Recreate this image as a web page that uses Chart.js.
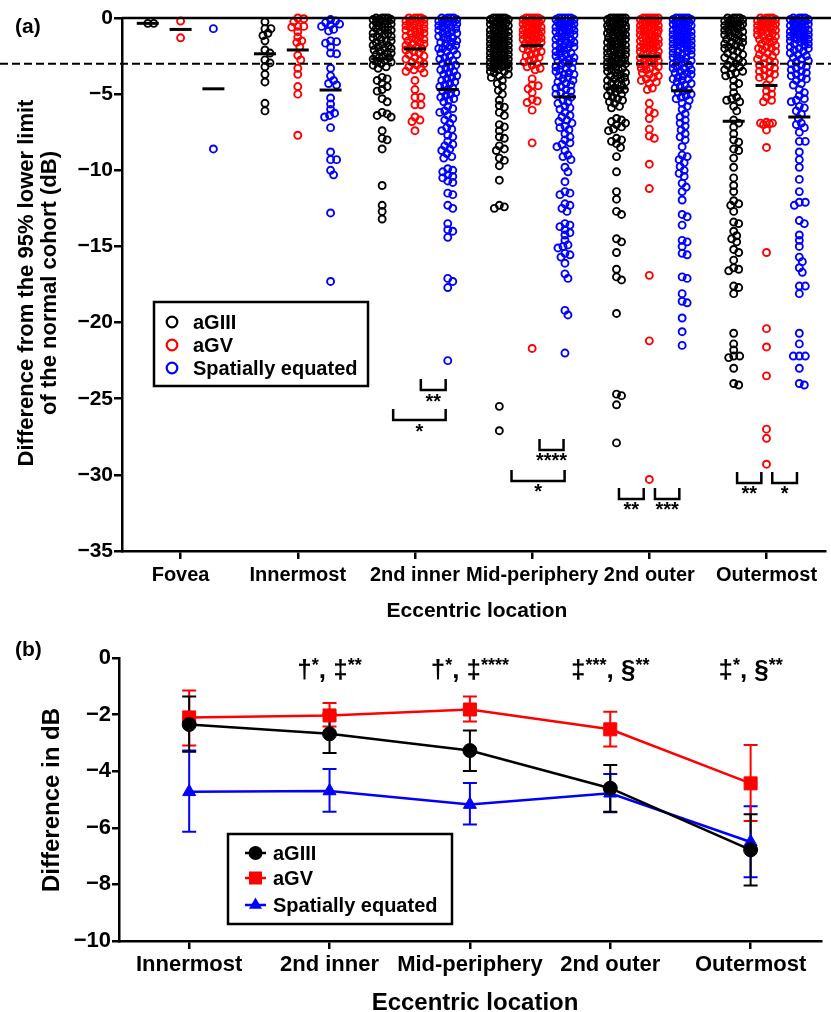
<!DOCTYPE html>
<html>
<head>
<meta charset="utf-8">
<script src="https://cdn.jsdelivr.net/npm/chart.js@4/dist/chart.umd.min.js"></script>
<style>
  body { margin: 0; background: #fff; }
  canvas { position: absolute; left: 0; }
  #chartA { top: 0; }
  #chartB { top: 630px; }
</style>
</head>
<body>
<canvas id="chartA" width="831" height="630"></canvas>
<canvas id="chartB" width="831" height="382"></canvas>
<script>
const FONT = '"Liberation Sans", Arial, Helvetica, sans-serif';

const locationsA = ['Fovea', 'Innermost', '2nd inner', 'Mid-periphery', '2nd outer', 'Outermost'];
const locationsB = locationsA.slice(1);
const seriesNames = ['aGIII', 'aGV', 'Spatially equated'];
const seriesColors = ['#000000', '#ff0000', '#0000ff'];

// individual differences from the normal 95% lower limit (dB)
const aGIII_fovea = [-0.35, -0.35];
const aGV_fovea = [-0.2, -1.3];
const spatial_fovea = [-0.7, -8.6];

const aGIII_innermost = [-0.25, -0.7, -0.7, -1.0, -1.15, -1.5, -2.1, -2.3, -2.75, -2.95, -3.2, -3.7, -4.2, -5.6, -6.1];
const aGV_innermost = [0, -0.05, -0.25, -0.55, -0.55, -0.6, -0.9, -1.25, -1.5, -1.6, -1.9, -2.45, -2.75, -3.3, -3.7, -4.5, -5.0, -7.7];
const spatial_innermost = [-0.1, -0.2, -0.3, -0.4, -0.45, -0.55, -0.75, -0.85, -1.5, -1.55, -1.65, -1.9, -2.3, -2.35, -3.3, -3.8,
  -4.1, -4.3, -4.4, -5.25, -5.65, -6.0, -6.25, -6.4, -6.5, -7.2, -8.8, -9.3, -9.3, -10.0, -10.3, -12.8, -17.3];

const aGIII_2ndInner = [0, 0, 0, 0, -0.1, -0.1, -0.1, -0.2, -0.2, -0.3, -0.3, -0.4, -0.4, -0.5, -0.5, -0.6, -0.6, -0.7, -0.8, -0.8,
  -0.9, -1.0, -1.0, -1.1, -1.2, -1.2, -1.3, -1.4, -1.5, -1.5, -1.6, -1.7, -1.8, -1.8, -1.9, -2.0, -2.0, -2.1, -2.2, -2.3, -2.3,
  -2.4, -2.5, -2.6, -2.6, -2.7, -2.8, -2.9, -2.9, -3.0, -3.1, -3.2,
  -3.3, -3.9, -4.0, -4.1, -4.3, -4.5, -4.7, -4.8, -5.3, -5.5, -6.2, -6.3, -6.4, -6.5, -7.4, -7.9, -8.0, -8.6, -11.0, -12.3, -12.7, -13.2];
const aGV_2ndInner = [0, 0, 0, 0, -0.1, -0.1, -0.2, -0.2, -0.3, -0.3, -0.4, -0.5, -0.5, -0.6, -0.6, -0.7, -0.8, -0.8, -0.9, -1.0,
  -1.0, -1.1, -1.2, -1.2, -1.3, -1.4, -1.4, -1.5, -1.6, -1.7, -1.7, -1.8, -1.9, -2.0, -2.0, -2.1, -2.2, -2.3, -2.4, -2.5, -2.6,
  -2.7, -2.8, -2.9, -3.0, -3.1, -3.2, -3.3, -3.4, -3.5, -3.6,
  -4.1, -4.7, -5.2, -5.2, -5.7, -5.7, -6.5, -6.7, -6.8, -7.4];
const spatial_2ndInner = [0, 0, 0, 0, -0.1, -0.1, -0.2, -0.2, -0.3, -0.3, -0.4, -0.4, -0.5, -0.6, -0.6, -0.7, -0.8, -0.8, -0.9,
  -1.0, -1.0, -1.1, -1.2, -1.3, -1.3, -1.4, -1.5, -1.6, -1.6, -1.7, -1.8, -1.9, -2.0, -2.0, -2.1, -2.2, -2.3, -2.4, -2.5, -2.6,
  -2.7, -2.8, -2.9, -3.0, -3.1, -3.2, -3.3, -3.4, -3.5, -3.6, -3.7, -3.8, -3.9, -4.0, -4.1, -4.2, -4.3, -4.4, -4.5, -4.6, -4.7,
  -4.8, -4.9, -5.0, -5.1, -5.2, -5.3, -5.4, -5.5,
  -5.8, -5.95, -6.1, -6.2, -6.4, -6.6, -6.7, -6.9, -7.2, -7.3, -7.4, -7.7, -7.8, -8.1, -8.3, -8.4, -8.6, -8.7, -8.9, -9.1, -9.2,
  -9.9, -10.0, -10.1, -10.3, -10.4, -10.5, -10.7, -10.8, -11.5, -11.6, -12.3, -12.5, -13.5, -13.9, -14.0, -14.4, -17.1, -17.3,
  -17.7, -22.5];

const aGIII_mid = [0, 0, 0, 0, 0, -0.1, -0.1, -0.1, -0.2, -0.2, -0.2, -0.3, -0.3, -0.4, -0.4, -0.5, -0.5, -0.6, -0.6, -0.7, -0.7,
  -0.8, -0.8, -0.9, -0.9, -1.0, -1.0, -1.1, -1.1, -1.2, -1.2, -1.3, -1.3, -1.4, -1.4, -1.5, -1.5, -1.6, -1.6, -1.7, -1.7, -1.8,
  -1.8, -1.9, -1.9, -2.0, -2.0, -2.1, -2.1, -2.2, -2.2, -2.3, -2.3, -2.4, -2.4, -2.5, -2.5, -2.6, -2.6, -2.7, -2.7, -2.8, -2.8,
  -2.9, -2.9, -3.0, -3.0, -3.1, -3.1, -3.2, -3.2, -3.3, -3.3, -3.4, -3.5, -3.5, -3.6, -3.7, -3.8, -3.9,
  -4.1, -4.3, -4.5, -4.75, -5.0, -5.4, -5.75, -5.85, -6.2, -6.4, -7.0, -7.15, -7.4, -7.8, -7.9, -8.4, -8.6, -8.7, -9.2, -9.35,
  -9.7, -10.65, -12.3, -12.4, -12.5, -25.5, -27.1];
const aGV_mid = [0, 0, 0, 0, 0, -0.1, -0.1, -0.1, -0.2, -0.2, -0.3, -0.3, -0.4, -0.4, -0.5, -0.5, -0.6, -0.6, -0.7, -0.7, -0.8,
  -0.8, -0.9, -0.9, -1.0, -1.0, -1.1, -1.1, -1.2, -1.2, -1.3, -1.3, -1.4, -1.4, -1.5, -1.5, -1.6, -1.7, -1.7, -1.8, -1.9, -2.0,
  -2.0, -2.1, -2.2, -2.3, -2.4, -2.5, -2.6, -2.7, -2.8, -2.9, -3.0, -3.1, -3.2, -3.3, -3.4,
  -4.0, -4.4, -4.45, -4.65, -4.9, -5.35, -5.45, -5.55, -6.05, -8.2, -21.7];
const spatial_mid = [0, 0, 0, 0, 0, -0.1, -0.1, -0.2, -0.2, -0.3, -0.3, -0.4, -0.4, -0.5, -0.5, -0.6, -0.6, -0.7, -0.7, -0.8,
  -0.8, -0.9, -0.9, -1.0, -1.0, -1.1, -1.2, -1.2, -1.3, -1.4, -1.4, -1.5, -1.6, -1.6, -1.7, -1.8, -1.8, -1.9, -2.0, -2.0, -2.1,
  -2.2, -2.3, -2.3, -2.4, -2.5, -2.6, -2.6, -2.7, -2.8, -2.9, -2.9, -3.0, -3.1, -3.2, -3.3, -3.3, -3.4, -3.5, -3.6, -3.7, -3.7,
  -3.8, -3.9, -4.0, -4.1, -4.2, -4.3, -4.4, -4.5, -4.6, -4.7, -4.8, -4.9, -5.0, -5.1, -5.2,
  -5.4, -5.5, -5.6, -5.8, -5.9, -6.0, -6.2, -6.4, -6.5, -6.7, -6.8, -6.9, -7.1, -7.2, -7.35, -7.6, -7.8, -8.0, -8.2, -8.3, -8.45,
  -8.7, -9.0, -9.1, -9.3, -9.8, -10.1, -10.75, -11.4, -11.5, -11.6, -12.2, -12.3, -12.5, -12.7, -13.5, -13.6, -13.7, -13.9,
  -14.1, -14.25, -14.6, -14.9, -15.0, -15.1, -15.45, -15.55, -15.7, -16.1, -16.8, -17.1, -19.2, -19.5, -22.0];

const aGIII_2ndOuter = [0, 0, 0, 0, 0, 0, -0.1, -0.1, -0.1, -0.2, -0.2, -0.2, -0.3, -0.3, -0.4, -0.4, -0.4, -0.5, -0.5, -0.6,
  -0.6, -0.7, -0.7, -0.7, -0.8, -0.8, -0.9, -0.9, -1.0, -1.0, -1.0, -1.1, -1.1, -1.2, -1.2, -1.3, -1.3, -1.4, -1.4, -1.5, -1.5,
  -1.6, -1.6, -1.7, -1.7, -1.8, -1.8, -1.9, -1.9, -2.0, -2.0, -2.1, -2.1, -2.2, -2.2, -2.3, -2.3, -2.4, -2.4, -2.5, -2.5, -2.6,
  -2.6, -2.7, -2.7, -2.8, -2.8, -2.9, -2.9, -3.0, -3.0, -3.1, -3.2, -3.2, -3.3, -3.4, -3.4, -3.5, -3.6, -3.6, -3.7, -3.8, -3.8,
  -3.9, -4.0, -4.0, -4.1, -4.2, -4.3, -4.3, -4.4, -4.5, -4.6, -4.7, -4.7, -4.8, -4.9, -5.0, -5.1, -5.2, -5.3, -5.4, -5.5, -5.6,
  -5.8, -5.9,
  -6.6, -6.7, -6.8, -6.9, -7.0, -7.15, -7.3, -7.4, -7.9, -8.0, -8.1, -8.25, -8.5, -9.1, -10.1, -11.4, -11.9, -12.7, -12.9, -14.5,
  -14.7, -15.4, -16.5, -17.0, -17.2, -19.4, -24.7, -24.8, -25.4, -27.9];
const aGV_2ndOuter = [0, 0, 0, 0, 0, 0, -0.1, -0.1, -0.1, -0.2, -0.2, -0.2, -0.3, -0.3, -0.3, -0.4, -0.4, -0.5, -0.5, -0.5, -0.6,
  -0.6, -0.7, -0.7, -0.8, -0.8, -0.9, -0.9, -1.0, -1.0, -1.1, -1.1, -1.2, -1.2, -1.3, -1.3, -1.4, -1.4, -1.5, -1.5, -1.6, -1.6,
  -1.7, -1.7, -1.8, -1.8, -1.9, -1.9, -2.0, -2.0, -2.1, -2.2, -2.2, -2.3, -2.4, -2.4, -2.5, -2.6, -2.6, -2.7, -2.8, -2.8, -2.9,
  -3.0, -3.0, -3.1, -3.2, -3.3, -3.3, -3.4, -3.5, -3.6, -3.7, -3.8, -3.9, -4.0, -4.1, -4.2, -4.3,
  -4.6, -4.7, -5.6, -6.1, -6.25, -6.6, -7.3, -7.75, -7.9, -9.6, -11.2, -16.9, -21.2, -30.3];
const spatial_2ndOuter = [0, 0, 0, 0, 0, -0.1, -0.1, -0.1, -0.2, -0.2, -0.3, -0.3, -0.3, -0.4, -0.4, -0.5, -0.5, -0.6, -0.6,
  -0.7, -0.7, -0.8, -0.8, -0.9, -0.9, -1.0, -1.0, -1.1, -1.1, -1.2, -1.2, -1.3, -1.3, -1.4, -1.4, -1.5, -1.5, -1.6, -1.6, -1.7,
  -1.7, -1.8, -1.8, -1.9, -1.9, -2.0, -2.0, -2.1, -2.2, -2.2, -2.3, -2.4, -2.4, -2.5, -2.6, -2.6, -2.7, -2.8, -2.8, -2.9, -3.0,
  -3.0, -3.1, -3.2, -3.3, -3.3, -3.4, -3.5, -3.6, -3.6, -3.7, -3.8, -3.9, -4.0, -4.0, -4.1, -4.2, -4.3, -4.4, -4.5, -4.6, -4.7,
  -4.8, -4.9, -5.0, -5.1, -5.2, -5.3, -5.4,
  -5.6, -5.8, -6.0, -6.3, -6.5, -6.7, -6.9, -7.1, -7.35, -7.6, -7.8, -8.0, -8.45, -9.0, -9.1, -9.3, -9.5, -9.75, -10.0, -10.2,
  -10.4, -10.85, -11.1, -11.4, -11.95, -12.9, -13.05, -13.6, -14.6, -14.7, -15.0, -15.45, -15.55, -17.0, -17.1, -18.1, -18.6,
  -18.7, -19.7, -20.6, -21.5];

const aGIII_outermost = [0, 0, 0, 0, -0.1, -0.1, -0.2, -0.2, -0.3, -0.3, -0.4, -0.4, -0.5, -0.5, -0.6, -0.6, -0.7, -0.7, -0.8,
  -0.9, -0.9, -1.0, -1.1, -1.1, -1.2, -1.3, -1.3, -1.4, -1.5, -1.6, -1.6, -1.7, -1.8, -1.9, -1.9, -2.0, -2.1, -2.2, -2.3, -2.4,
  -2.5, -2.6, -2.7, -2.8, -2.9, -3.0, -3.1, -3.2, -3.3, -3.4, -3.5, -3.6, -3.7, -3.8,
  -4.1, -4.3, -4.5, -4.9, -5.2, -5.3, -5.4, -5.5, -5.8, -6.1, -6.7, -6.9, -7.15, -7.6, -8.0, -8.15, -8.6, -8.7, -9.2, -9.8,
  -10.5, -11.0, -11.4, -12.0, -12.2, -12.3, -12.7, -13.4, -13.5, -14.0, -14.3, -14.5, -14.7, -15.2, -15.4, -15.9, -16.4, -16.5,
  -16.6, -17.6, -17.7, -18.1, -20.7, -21.4, -21.8, -22.2, -22.2, -22.3, -23.0, -24.0, -24.1];
const aGV_outermost = [0, 0, 0, 0, -0.1, -0.1, -0.2, -0.2, -0.3, -0.3, -0.4, -0.4, -0.5, -0.5, -0.6, -0.6, -0.7, -0.7, -0.8, -0.8,
  -0.9, -1.0, -1.0, -1.1, -1.2, -1.2, -1.3, -1.4, -1.5, -1.5, -1.6, -1.7, -1.8, -1.9, -2.0, -2.0, -2.1, -2.2, -2.3, -2.4, -2.5,
  -2.6, -2.7, -2.8, -2.9, -3.0, -3.1, -3.2, -3.3, -3.4, -3.5, -3.6, -3.7, -3.8, -3.9, -4.0,
  -4.4, -4.6, -4.8, -5.0, -5.2, -5.4, -5.5, -6.85, -6.9, -6.9, -6.95, -7.0, -7.35, -8.5, -15.4, -20.4, -21.6, -23.5, -27.0,
  -27.6, -29.3];
const spatial_outermost = [0, 0, 0, 0, -0.1, -0.1, -0.1, -0.2, -0.2, -0.3, -0.3, -0.4, -0.4, -0.5, -0.5, -0.6, -0.6, -0.7, -0.7,
  -0.8, -0.8, -0.9, -0.9, -1.0, -1.0, -1.1, -1.1, -1.2, -1.2, -1.3, -1.3, -1.4, -1.4, -1.5, -1.5, -1.6, -1.7, -1.7, -1.8, -1.9,
  -2.0, -2.0, -2.1, -2.2, -2.3, -2.4, -2.5, -2.6, -2.7, -2.8, -2.9, -3.0, -3.1, -3.2, -3.3, -3.4, -3.5, -3.6, -3.7, -3.8, -3.9,
  -4.0, -4.1,
  -4.3, -4.4, -4.7, -4.9, -5.1, -5.3, -5.4, -5.5, -5.8, -5.9, -6.1, -6.3, -6.6, -6.9, -7.0, -7.2, -7.5, -8.1, -8.1, -8.8, -9.3,
  -9.8, -10.6, -11.4, -12.1, -12.1, -12.3, -13.3, -13.5, -14.25, -14.6, -15.0, -15.7, -16.0, -16.4, -16.7, -17.6, -17.6, -18.1,
  -20.7, -21.4, -22.2, -22.2, -22.2, -23.0, -24.0, -24.1];

// group means (dB), Fovea first
const meanAGIII = [-0.35, -2.35, -2.68, -3.27, -4.6, -6.78];
const meanAGV = [-0.75, -2.1, -2.03, -1.82, -2.52, -4.43];
const meanSpatial = [-4.65, -4.73, -4.7, -5.18, -4.78, -6.5];

// error bar limits for panel (b), Innermost to Outermost
const upperAGIII = [-1.36, -1.97, -2.56, -3.78, -5.52];
const lowerAGIII = [-3.31, -3.36, -3.99, -5.43, -8.04];
const upperAGV = [-1.15, -1.59, -1.36, -1.9, -3.07];
const lowerAGV = [-3.09, -2.42, -2.24, -3.13, -5.76];
const upperSpatial = [-3.27, -3.92, -4.42, -4.1, -5.24];
const lowerSpatial = [-6.14, -5.43, -5.88, -5.45, -7.75];

// pairwise comparisons in panel (a): [from x, to x, y, stars]
const pairMarks = [
  [1.814, 2.262, -26.4, '*'], [2.05, 2.262, -24.43, '**'],
  [2.824, 3.277, -30.4, '*'], [3.063, 3.268, -28.36, '****'],
  [3.741, 3.952, -31.58, '**'], [4.048, 4.256, -31.58, '***'],
  [4.749, 4.956, -30.53, '**'], [5.049, 5.26, -30.53, '*']
];
const contrastLabels = ['', '\u2020*, \u2021**', '\u2020*, \u2021****', '\u2021***, \u00a7**', '\u2021*, \u00a7**'];

const pointsA = [
  [aGIII_fovea, aGIII_innermost, aGIII_2ndInner, aGIII_mid, aGIII_2ndOuter, aGIII_outermost],
  [aGV_fovea, aGV_innermost, aGV_2ndInner, aGV_mid, aGV_2ndOuter, aGV_outermost],
  [spatial_fovea, spatial_innermost, spatial_2ndInner, spatial_mid, spatial_2ndOuter, spatial_outermost]
];
const meansA = [meanAGIII, meanAGV, meanSpatial];
const groupShift = [-0.28, 0, 0.28];

Chart.defaults.font.family = FONT;
Chart.defaults.font.weight = 'bold';
Chart.defaults.color = '#000';

const minus = v => (v === 0 ? '0' : '\u2212' + Math.abs(v));

// beeswarm offsets (px) for one column of points, capped to a narrow strip
function swarmOffsets(pys, gap, maxOff) {
  const order = pys.map((_, i) => i).sort((a, b) => pys[a] - pys[b]);
  const placed = [];
  const offs = new Array(pys.length).fill(0);
  for (const i of order) {
    const y = pys[i];
    let bestOff = 0, bestGap = -1;
    for (let step = 0; step <= 2 * maxOff; step++) {
      const o = (step % 2 ? 1 : -1) * Math.ceil(step / 2);
      let g = Infinity;
      for (const p of placed) {
        const dy = p.y - y;
        if (Math.abs(dy) >= gap) continue;
        g = Math.min(g, Math.hypot(p.x - o, dy));
      }
      if (g >= gap) { bestOff = o; break; }
      if (g > bestGap) { bestGap = g; bestOff = o; }
    }
    offs[i] = bestOff;
    placed.push({ x: bestOff, y });
  }
  return offs;
}

function spreadPoints(chart) {
  const xs = chart.scales.x, ys = chart.scales.y;
  chart.data.datasets.forEach((ds, s) => {
    locationsA.forEach((_, i) => {
      const pts = ds.data.filter(p => p.loc === i);
      const cx = xs.getPixelForValue(i + groupShift[s]);
      const offs = swarmOffsets(pts.map(p => ys.getPixelForValue(p.y)), 5.2, 9);
      pts.forEach((p, k) => { p.x = xs.getValueForPixel(cx + offs[k]); });
    });
  });
  chart.update('none');
}

function rotatedText(ctx, text, x, y, font) {
  ctx.save();
  ctx.translate(x, y);
  ctx.rotate(-Math.PI / 2);
  ctx.font = font;
  ctx.textAlign = 'center';
  ctx.textBaseline = 'alphabetic';
  ctx.fillText(text, 0, 0);
  ctx.restore();
}

// mean bars, reference lines and comparison brackets of panel (a)
const panelAExtras = {
  id: 'panelAExtras',
  afterDatasetsDraw(chart) {
    const { ctx, scales: { x, y }, chartArea } = chart;
    ctx.save();
    ctx.strokeStyle = '#000';
    ctx.lineWidth = 2.5;
    ctx.beginPath();
    ctx.moveTo(chartArea.left, y.getPixelForValue(0));
    ctx.lineTo(chart.width, y.getPixelForValue(0));
    ctx.stroke();

    ctx.lineWidth = 2;
    ctx.setLineDash([8, 4]);
    ctx.beginPath();
    ctx.moveTo(0, y.getPixelForValue(-3));
    ctx.lineTo(chart.width, y.getPixelForValue(-3));
    ctx.stroke();
    ctx.setLineDash([]);

    ctx.lineWidth = 3;
    meansA.forEach((means, s) => {
      means.forEach((m, i) => {
        const px = x.getPixelForValue(i + groupShift[s]);
        const py = y.getPixelForValue(m);
        ctx.beginPath();
        ctx.moveTo(px - 11, py);
        ctx.lineTo(px + 11, py);
        ctx.stroke();
      });
    });

    ctx.lineWidth = 2.5;
    ctx.font = 'bold 20px ' + FONT;
    ctx.fillStyle = '#000';
    ctx.textAlign = 'center';
    ctx.textBaseline = 'top';
    pairMarks.forEach(([x1, x2, v, stars]) => {
      const a = x.getPixelForValue(x1), b = x.getPixelForValue(x2), py = y.getPixelForValue(v);
      ctx.beginPath();
      ctx.moveTo(a, py - 11);
      ctx.lineTo(a, py);
      ctx.lineTo(b, py);
      ctx.lineTo(b, py - 11);
      ctx.stroke();
      ctx.fillText(stars, (a + b) / 2, py + 2);
    });
    ctx.restore();
  },
  afterDraw(chart) {
    const ctx = chart.ctx;
    ctx.save();
    ctx.fillStyle = '#000';
    ctx.font = 'bold 21px ' + FONT;
    ctx.textAlign = 'left';
    ctx.textBaseline = 'middle';
    ctx.fillText('(a)', 15, 27);

    rotatedText(ctx, 'Difference from the 95% lower limit', 33, 283, 'bold 22px ' + FONT);
    rotatedText(ctx, 'of the normal cohort (dB)', 56, 283, 'bold 22px ' + FONT);

    ctx.font = 'bold 21px ' + FONT;
    ctx.textAlign = 'center';
    ctx.textBaseline = 'alphabetic';
    ctx.fillText('Eccentric location', 477, 617);

    // legend
    ctx.lineWidth = 2.5;
    ctx.strokeStyle = '#000';
    ctx.strokeRect(154, 302, 214, 84);
    ctx.font = 'bold 20px ' + FONT;
    ctx.textAlign = 'left';
    ctx.textBaseline = 'middle';
    seriesNames.forEach((name, s) => {
      const ly = 322 + s * 23;
      ctx.beginPath();
      ctx.lineWidth = 2.2;
      ctx.strokeStyle = seriesColors[s];
      ctx.arc(172, ly, 5.3, 0, Math.PI * 2);
      ctx.stroke();
      ctx.fillText(name, 193, ly + 1);
    });
    ctx.restore();
  }
};

const chartA = new Chart(document.getElementById('chartA'), {
  type: 'scatter',
  data: {
    datasets: pointsA.map((byLoc, s) => ({
      label: seriesNames[s],
      data: byLoc.flatMap((vals, i) => vals.map(v => ({ x: i + groupShift[s], y: v, loc: i }))),
      borderColor: seriesColors[s],
      backgroundColor: 'rgba(0,0,0,0)',
      pointRadius: 3.5,
      pointBorderWidth: 1.9,
      clip: false
    }))
  },
  options: {
    responsive: false,
    animation: false,
    events: [],
    layout: { padding: { top: 18, right: 0, left: 0, bottom: 0 } },
    plugins: { legend: { display: false }, tooltip: { enabled: false } },
    scales: {
      x: {
        type: 'linear',
        min: -0.5,
        max: 5.5,
        afterBuildTicks: scale => { scale.ticks = locationsA.map((_, i) => ({ value: i })); },
        afterFit: scale => { scale.height = 79; },
        ticks: { callback: v => locationsA[v], font: { size: 20, weight: 'bold' }, padding: 4, maxRotation: 0, autoSkip: false },
        grid: { drawOnChartArea: false, tickLength: 8, lineWidth: 2.5, color: '#000' },
        border: { color: '#000', width: 2.5 }
      },
      y: {
        min: -35,
        max: 0,
        afterFit: scale => { scale.width = 122; },
        ticks: { stepSize: 5, callback: minus, font: { size: 21, weight: 'bold' }, padding: 1 },
        grid: { drawOnChartArea: false, tickLength: 8, lineWidth: 2.5, color: '#000' },
        border: { color: '#000', width: 2.5 }
      }
    }
  },
  plugins: [panelAExtras]
});
spreadPoints(chartA);

// superscript stars after the comparison symbols
function drawContrast(ctx, text, cx, baseY) {
  const big = 'bold 26px ' + FONT, small = 'bold 18px ' + FONT;
  const parts = [...text].map(ch => {
    ctx.font = ch === '*' ? small : big;
    return { ch, font: ctx.font, w: ctx.measureText(ch).width, star: ch === '*' };
  });
  let px = cx - parts.reduce((s, p) => s + p.w, 0) / 2;
  ctx.textAlign = 'left';
  ctx.textBaseline = 'alphabetic';
  parts.forEach(p => {
    ctx.font = p.font;
    ctx.fillText(p.ch, px, p.star ? baseY - 7 : baseY);
    px += p.w;
  });
}

const upperB = [upperAGIII, upperAGV, upperSpatial];
const lowerB = [lowerAGIII, lowerAGV, lowerSpatial];

const panelBExtras = {
  id: 'panelBExtras',
  beforeDatasetsDraw(chart) {
    const { ctx, scales: { x, y } } = chart;
    ctx.save();
    ctx.lineWidth = 2;
    [2, 1, 0].forEach(s => {
      ctx.strokeStyle = seriesColors[s];
      locationsB.forEach((_, i) => {
        const px = x.getPixelForValue(i);
        const top = y.getPixelForValue(upperB[s][i]), bot = y.getPixelForValue(lowerB[s][i]);
        ctx.beginPath();
        ctx.moveTo(px, top); ctx.lineTo(px, bot);
        ctx.moveTo(px - 7, top); ctx.lineTo(px + 7, top);
        ctx.moveTo(px - 7, bot); ctx.lineTo(px + 7, bot);
        ctx.stroke();
      });
    });
    ctx.restore();
  },
  afterDraw(chart) {
    const { ctx, scales: { x } } = chart;
    ctx.save();
    ctx.fillStyle = '#000';
    ctx.font = 'bold 21px ' + FONT;
    ctx.textAlign = 'left';
    ctx.textBaseline = 'middle';
    ctx.fillText('(b)', 15, 20);

    contrastLabels.forEach((t, i) => { if (t) drawContrast(ctx, t, x.getPixelForValue(i), 48); });

    rotatedText(ctx, 'Difference in dB', 59, 170, 'bold 24px ' + FONT);
    ctx.font = 'bold 24px ' + FONT;
    ctx.textAlign = 'center';
    ctx.textBaseline = 'alphabetic';
    ctx.fillText('Eccentric location', 475, 380);

    // legend
    ctx.lineWidth = 2.5;
    ctx.strokeStyle = '#000';
    ctx.strokeRect(228, 204, 224, 90);
    ctx.font = 'bold 20px ' + FONT;
    ctx.textAlign = 'left';
    ctx.textBaseline = 'middle';
    [223, 248, 275].forEach((ly, s) => {
      ctx.strokeStyle = seriesColors[s];
      ctx.fillStyle = seriesColors[s];
      ctx.beginPath();
      ctx.moveTo(245, ly); ctx.lineTo(266, ly);
      ctx.stroke();
      ctx.beginPath();
      if (s === 0) ctx.arc(255.5, ly, 7, 0, Math.PI * 2);
      else if (s === 1) ctx.rect(249, ly - 6.5, 13, 13);
      else { ctx.moveTo(255.5, ly - 7.5); ctx.lineTo(262, ly + 3.8); ctx.lineTo(249, ly + 3.8); ctx.closePath(); }
      ctx.fill();
      ctx.fillStyle = '#000';
      ctx.fillText(seriesNames[s], 273, ly + 1);
    });
    ctx.restore();
  }
};

const lineStyle = (s, data, pointStyle, radius) => ({
  label: seriesNames[s],
  data,
  borderColor: seriesColors[s],
  backgroundColor: seriesColors[s],
  borderWidth: 2.5,
  pointStyle,
  pointRadius: radius,
  pointBorderWidth: 1,
  tension: 0,
  clip: false
});

new Chart(document.getElementById('chartB'), {
  type: 'line',
  data: {
    labels: locationsB,
    datasets: [
      lineStyle(0, meanAGIII.slice(1), 'circle', 7),
      lineStyle(1, meanAGV.slice(1), 'rect', 9.2),
      lineStyle(2, meanSpatial.slice(1), 'triangle', 7.5)
    ]
  },
  options: {
    responsive: false,
    animation: false,
    events: [],
    layout: { padding: { top: 28, right: 1, left: 0, bottom: 0 } },
    plugins: { legend: { display: false }, tooltip: { enabled: false } },
    scales: {
      x: {
        offset: true,
        afterFit: scale => { scale.height = 71; },
        ticks: { font: { size: 22, weight: 'bold' }, padding: 3, maxRotation: 0, autoSkip: false },
        grid: { offset: false, drawOnChartArea: false, tickLength: 8, lineWidth: 2.5, color: '#000' },
        border: { color: '#000', width: 2.5 }
      },
      y: {
        min: -10,
        max: 0,
        afterFit: scale => { scale.width = 119; },
        ticks: { stepSize: 2, callback: minus, font: { size: 22, weight: 'bold' }, padding: 1 },
        grid: { drawOnChartArea: false, tickLength: 7, lineWidth: 2.5, color: '#000' },
        border: { color: '#000', width: 2.5 }
      }
    }
  },
  plugins: [panelBExtras]
});
</script>
</body>
</html>
